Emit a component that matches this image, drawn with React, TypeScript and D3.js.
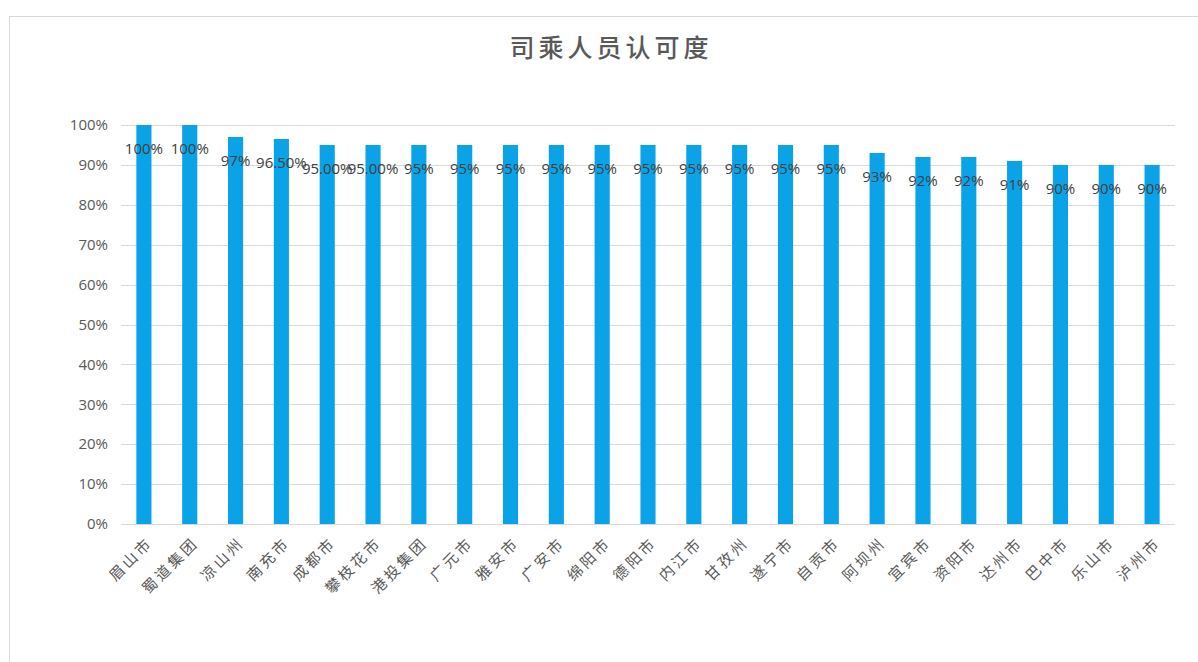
import React from 'react';
import * as d3 from 'd3';

const title = '司乘人员认可度';

const cities = [
  '眉山市', '蜀道集团', '凉山州', '南充市', '成都市', '攀枝花市', '港投集团', '广元市',
  '雅安市', '广安市', '绵阳市', '德阳市', '内江市', '甘孜州', '遂宁市', '自贡市',
  '阿坝州', '宜宾市', '资阳市', '达州市', '巴中市', '乐山市', '泸州市',
];

const approval = [
  1.0, 1.0, 0.97, 0.965, 0.95, 0.95, 0.95, 0.95,
  0.95, 0.95, 0.95, 0.95, 0.95, 0.95, 0.95, 0.95,
  0.93, 0.92, 0.92, 0.91, 0.9, 0.9, 0.9,
];

const valueLabels = [
  '100%', '100%', '97%', '96.50%', '95.00%', '95.00%', '95%', '95%',
  '95%', '95%', '95%', '95%', '95%', '95%', '95%', '95%',
  '93%', '92%', '92%', '91%', '90%', '90%', '90%',
];

const yTicks = [0, 0.1, 0.2, 0.3, 0.4, 0.5, 0.6, 0.7, 0.8, 0.9, 1.0];

const W = 1198;
const H = 662;
const plot = { left: 121, right: 1175, top: 125, bottom: 524 };
const cjk = '"Noto Sans CJK SC", "Noto Sans", sans-serif';
const latin = '"Open Sans", "Noto Sans", sans-serif';

export default function App() {
  const x = d3.scaleBand<string>()
    .domain(cities)
    .range([plot.left, plot.right])
    .paddingInner(0.67)
    .paddingOuter(0.335);

  const y = d3.scaleLinear().domain([0, 1]).range([plot.bottom, plot.top]);
  const pct = d3.format('.0%');

  return (
    <div style={{ position: 'fixed', left: 0, top: 0, width: W, height: H, background: '#fff' }}>
      <svg width={W} height={H} style={{ display: 'block' }}>
        {/* chart frame */}
        <rect x={9.5} y={16.5} width={1300} height={700} fill="#fff" stroke="#d9d9d9" />

        <text
          x={611}
          y={57}
          textAnchor="middle"
          fontFamily={cjk}
          fontSize={25}
          fontWeight={500}
          letterSpacing={4}
          fill="#595959"
        >
          {title}
        </text>

        {/* gridlines + y labels */}
        {yTicks.map(t => (
          <g key={t}>
            <line
              x1={plot.left}
              x2={plot.right}
              y1={Math.round(y(t)) + 0.5}
              y2={Math.round(y(t)) + 0.5}
              stroke="#d9d9d9"
            />
            <text
              x={108}
              y={y(t)}
              dy="0.35em"
              textAnchor="end"
              fontFamily={latin}
              fontSize={15}
              fill="#595959"
            >
              {pct(t)}
            </text>
          </g>
        ))}

        {/* bars */}
        {cities.map((c, i) => (
          <rect
            key={c}
            x={x(c)}
            y={y(approval[i])}
            width={x.bandwidth()}
            height={y(0) - y(approval[i])}
            fill="#0ba3e7"
          />
        ))}

        {/* data labels */}
        {cities.map((c, i) => (
          <text
            key={c + '-v'}
            x={(x(c) ?? 0) + x.bandwidth() / 2}
            y={y(approval[i]) + 24}
            dy="0.35em"
            textAnchor="middle"
            fontFamily={latin}
            fontSize={15}
            fill="#404040"
          >
            {valueLabels[i]}
          </text>
        ))}

        {/* category labels */}
        {cities.map(c => {
          const cx = (x(c) ?? 0) + x.bandwidth() / 2 + 6;
          return (
            <text
              key={c + '-x'}
              transform={`translate(${cx},${540}) rotate(-45)`}
              dy="0.35em"
              textAnchor="end"
              fontFamily={cjk}
              fontSize={15}
              letterSpacing={3}
              fill="#595959"
            >
              {c}
            </text>
          );
        })}
      </svg>
    </div>
  );
}
